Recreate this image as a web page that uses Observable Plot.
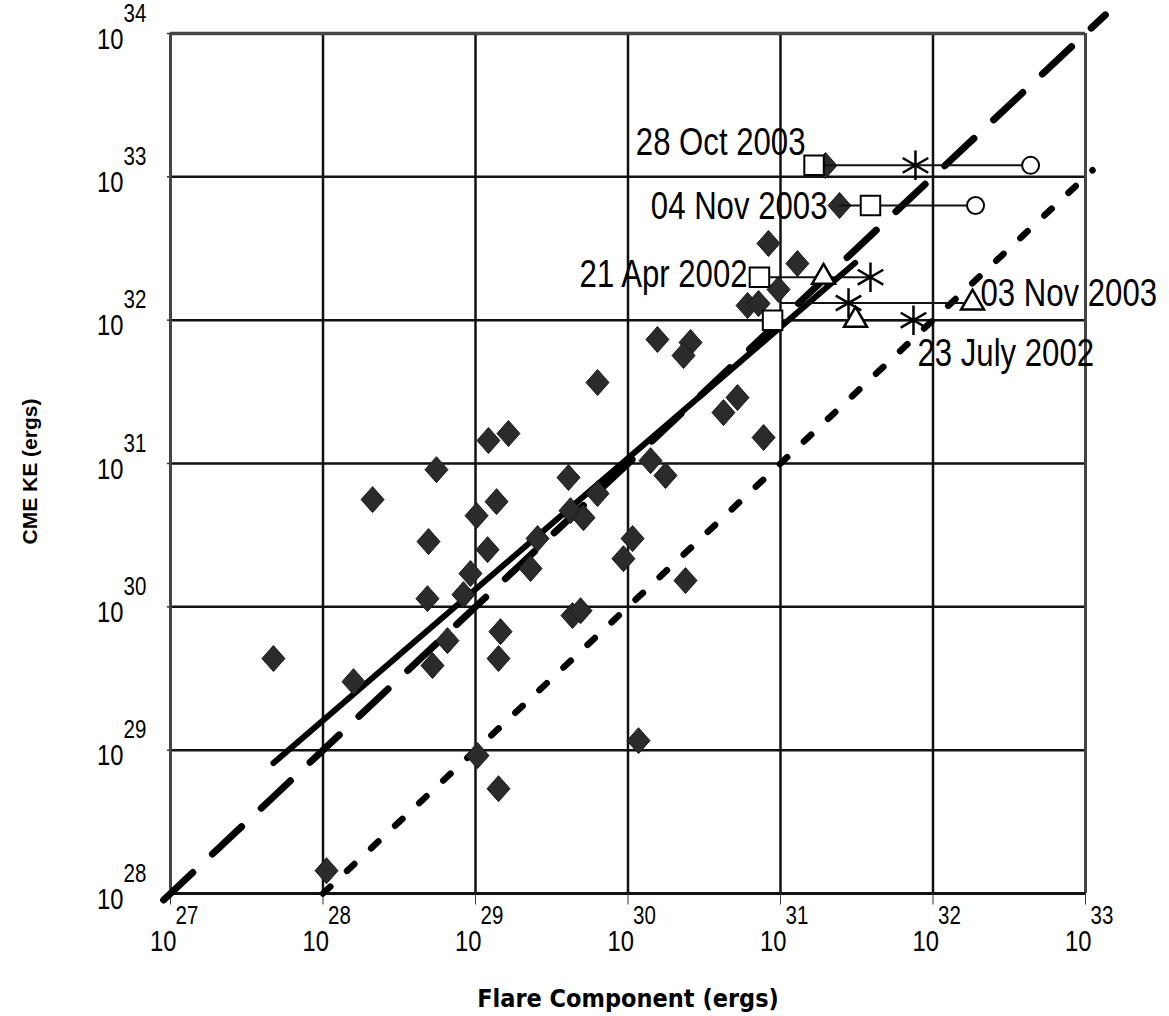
<!DOCTYPE html>
<html><head><meta charset="utf-8">
<script src="https://cdn.jsdelivr.net/npm/d3@7"></script>
<script src="https://cdn.jsdelivr.net/npm/@observablehq/plot@0.6"></script>
<style>
html,body{margin:0;padding:0;background:#fff;}
#chart svg{display:block;}
</style></head><body><div id="chart"></div>
<script>
// ---- tick exponents ----
const xTickExp = [27, 28, 29, 30, 31, 32, 33];
const yTickExp = [28, 29, 30, 31, 32, 33, 34];

// ---- scatter (log10 of energies in ergs) ----
const flareExp = [27.675, 28.200, 28.325, 28.744, 28.692, 28.685, 28.718, 28.816, 29.085, 29.216,
  29.007, 29.138, 29.079, 28.967, 28.921, 29.361, 29.164, 29.151, 29.013, 29.151,
  28.023, 29.610, 29.800, 29.623, 29.708, 29.407, 29.636, 29.689, 29.800, 30.030,
  29.970, 30.377, 30.148, 30.246, 30.069, 30.193, 30.410, 30.364, 30.626, 30.718,
  30.889, 30.921, 31.111, 30.987, 30.784, 30.856, 31.295, 31.387];
const cmeExp = [29.639, 29.478, 30.748, 30.957, 30.455, 30.057, 29.590, 29.764, 31.160, 31.209,
  30.636, 30.734, 30.399, 30.232, 30.085, 30.267, 29.827, 29.639, 28.962, 28.731,
  28.159, 30.902, 30.790, 30.671, 30.622, 30.476, 29.939, 29.973, 31.565, 30.476,
  30.336, 30.183, 31.020, 30.916, 29.066, 31.865, 31.844, 31.753, 31.355, 31.460,
  31.181, 32.535, 32.395, 32.214, 32.102, 32.116, 33.079, 32.800];

// ---- reference lines (log10 endpoints) ----
const fitLineX = [27.675, 31.49];
const fitLineY = [28.91, 32.40];
const tenTimesLineX = [26.955, 33.13];
const tenTimesLineY = [27.955, 34.13];
const equalLineX = [28.0, 33.046];
const equalLineY = [28.0, 33.046];

// ---- labelled events (log10) ----
const eventNames = ["28 Oct 2003", "04 Nov 2003", "21 Apr 2002", "03 Nov 2003", "23 July 2002"];
const eventKE = [33.08, 32.80, 32.30, 32.12, 32.00];
const eventLineFrom = [31.295, 31.387, 30.862, 31.0, 30.948];
const eventLineTo = [32.64, 32.279, 31.59, 32.259, 31.872];
const eventSquare = [31.22, 31.59, 30.862, null, 30.948];
const eventTriangle = [null, null, 31.282, 32.259, 31.492];
const eventAsterisk = [31.885, null, 31.59, 31.446, 31.872];
const eventCircle = [32.64, 32.279, null, null, null];

// ---- event label anchors (log10) ----
const labelX = [31.164, 31.308, 30.784, 32.311, 31.898];
const labelY = [33.234, 32.794, 32.313, 32.187, 31.768];
const labelSide = ["end", "end", "end", "start", "start"];

const narrow = "'Liberation Sans Narrow','Arial Narrow','Liberation Sans',sans-serif";
const p = e => 10 ** e;

const rhombus = {
  draw(ctx, size) {
    const r = Math.sqrt(size / Math.PI);
    const w = r, h = r * 1.13;
    ctx.moveTo(0, -h); ctx.lineTo(w, 0); ctx.lineTo(0, h); ctx.lineTo(-w, 0); ctx.closePath();
  }
};

const points = flareExp.map((e, i) => ({x: p(e), y: p(cmeExp[i])}));
const seg = (xs, ys) => xs.map((e, i) => ({x: p(e), y: p(ys[i])}));
const events = eventNames.map((n, i) => ({
  name: n, y: p(eventKE[i]), x1: p(eventLineFrom[i]), x2: p(eventLineTo[i]),
  sq: eventSquare[i], tri: eventTriangle[i], ast: eventAsterisk[i], circ: eventCircle[i]
}));
const labels = eventNames.map((n, i) => ({text: n, x: p(labelX[i]), y: p(labelY[i]), side: labelSide[i]}));
const sym = key => events.filter(d => d[key] != null).map(d => ({x: p(d[key]), y: d.y}));

const chart = Plot.plot({
  width: 1169, height: 1016,
  marginLeft: 170, marginRight: 84, marginTop: 33, marginBottom: 123,
  x: {type: "log", domain: [1e27, 1e33], axis: null},
  y: {type: "log", domain: [1e28, 1e34], axis: null},
  style: {background: "#fff", overflow: "visible"},
  marks: [
    // grid
    Plot.ruleX(xTickExp.slice(1, -1), {x: p, stroke: "#111", strokeWidth: 2.5}),
    Plot.ruleY(yTickExp.slice(1, -1), {y: p, stroke: "#111", strokeWidth: 2.5}),
    Plot.ruleX([xTickExp[0], xTickExp[xTickExp.length - 1]], {x: p, stroke: "#444", strokeWidth: 3}),
    Plot.ruleY([yTickExp[yTickExp.length - 1]], {y: p, stroke: "#444", strokeWidth: 3.5}),
    Plot.ruleY([yTickExp[0]], {y: p, stroke: "#111", strokeWidth: 3}),
    Plot.ruleX(xTickExp, {x: p, y1: p(28), y2: p(27.92), stroke: "#333", strokeWidth: 1}),
    Plot.ruleY(yTickExp, {y: p, x1: p(27), x2: p(26.98), stroke: "#333", strokeWidth: 1.5}),
    // tick labels
    Plot.text(xTickExp, {x: p, text: () => "10", frameAnchor: "bottom", lineAnchor: "middle", textAnchor: "end", dx: 6, dy: 48, fontSize: 29, fontFamily: narrow, fill: "#000"}),
    Plot.text(xTickExp, {x: p, text: d => String(d), frameAnchor: "bottom", lineAnchor: "middle", textAnchor: "start", dx: 5, dy: 22, fontSize: 25, fontFamily: narrow, fill: "#000"}),
    Plot.text(yTickExp, {y: p, text: () => "10", frameAnchor: "left", lineAnchor: "middle", textAnchor: "end", dx: -47, dy: 6, fontSize: 29, fontFamily: narrow, fill: "#000"}),
    Plot.text(yTickExp, {y: p, text: d => String(d), frameAnchor: "left", lineAnchor: "middle", textAnchor: "start", dx: -47, dy: -20, fontSize: 25, fontFamily: narrow, fill: "#000"}),
    // axis titles
    Plot.text(["CME KE (ergs)"], {frameAnchor: "left", rotate: -90, textAnchor: "middle", lineAnchor: "middle", dx: -140, dy: 8, fontSize: 21, fontWeight: "bold", fontFamily: "'Liberation Sans',Arial,sans-serif", fill: "#000"}),
    Plot.text(["Flare Component (ergs)"], {frameAnchor: "bottom", textAnchor: "middle", lineAnchor: "middle", dy: 105, fontSize: 25, fontWeight: "bold", fontFamily: "'DejaVu Sans Condensed','DejaVu Sans',sans-serif", fill: "#000"}),
    // reference lines
    Plot.line(seg(equalLineX, equalLineY), {x: "x", y: "y", stroke: "#000", strokeWidth: 6.5, strokeDasharray: "10,23", strokeLinecap: "round"}),
    Plot.line(seg(tenTimesLineX, tenTimesLineY), {x: "x", y: "y", stroke: "#000", strokeWidth: 7, strokeDasharray: "40,27", strokeLinecap: "round"}),
    Plot.line(seg(fitLineX, fitLineY), {x: "x", y: "y", stroke: "#000", strokeWidth: 6, strokeLinecap: "round"}),
    // scatter
    Plot.dot(points, {x: "x", y: "y", symbol: rhombus, r: 11.5, fill: "#2b2b2b", stroke: "#1a1a1a", strokeWidth: 1}),
    // events
    Plot.ruleY(events, {y: "y", x1: "x1", x2: "x2", stroke: "#111", strokeWidth: 2}),
    Plot.dot(sym("sq"), {x: "x", y: "y", symbol: "square", r: 11, fill: "white", stroke: "#000", strokeWidth: 2}),
    Plot.dot(sym("circ"), {x: "x", y: "y", symbol: "circle", r: 8.5, fill: "white", stroke: "#000", strokeWidth: 2}),
    Plot.dot(sym("tri"), {x: "x", y: "y", symbol: "triangle", r: 8.5, fill: "white", stroke: "#000", strokeWidth: 2.5}),
    Plot.dot(sym("ast"), {x: "x", y: "y", symbol: "asterisk", r: 14, stroke: "#000", strokeWidth: 2.5}),
    // event labels
    Plot.text(labels.filter(d => d.side === "end"), {x: "x", y: "y", text: "text", textAnchor: "end", lineAnchor: "middle", fontSize: 38, fontFamily: narrow, fill: "#000"}),
    Plot.text(labels.filter(d => d.side === "start"), {x: "x", y: "y", text: "text", textAnchor: "start", lineAnchor: "middle", fontSize: 38, fontFamily: narrow, fill: "#000"})
  ]
});

// condense the narrow-font texts horizontally (no narrow face is installed)
chart.querySelectorAll('g[font-family*="Narrow"] text').forEach(t => {
  const tr = t.getAttribute("transform");
  const xa = t.getAttribute("x"), ya = t.getAttribute("y");
  let tx = 0, ty = 0;
  if (xa != null && !/em$/.test(xa)) { tx = parseFloat(xa) || 0; t.removeAttribute("x"); }
  if (ya != null && !/em$/.test(ya)) { ty = parseFloat(ya) || 0; t.removeAttribute("y"); }
  const base = (tr ? tr + " " : "") + ((tx || ty) ? `translate(${tx},${ty}) ` : "");
  t.setAttribute("transform", base + "scale(0.82,1)");
});
document.getElementById("chart").appendChild(chart);
</script>
</body></html>
